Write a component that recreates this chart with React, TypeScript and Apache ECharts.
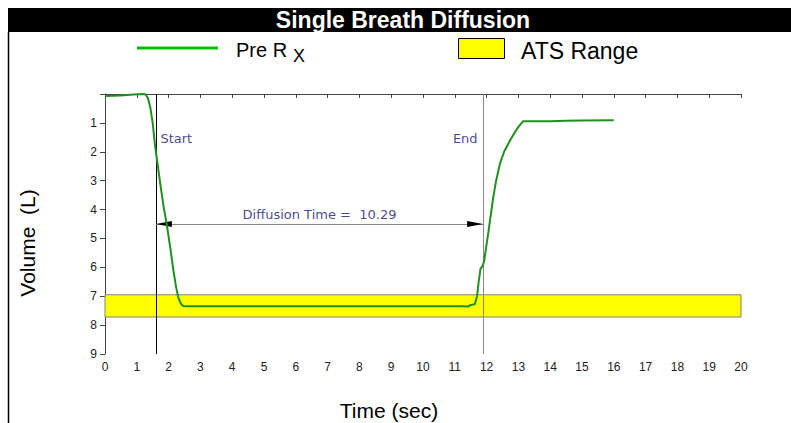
import React, { useEffect, useRef } from 'react';
import * as echarts from 'echarts';

// ---- data ----
const TIME = [
  0, 0.3, 0.6, 0.9, 1.2, 1.28, 1.35, 1.42, 1.5, 1.57, 1.65, 1.75, 1.85, 1.94, 2.05, 2.15, 2.23, 2.3, 2.38, 2.46,
  2.6, 4, 6, 8, 10, 11.2, 11.42, 11.5, 11.63, 11.7, 11.75, 11.81, 11.86, 11.92, 12.0, 12.05, 12.13, 12.21, 12.3,
  12.42, 12.55, 12.74, 12.9, 13.0, 13.15, 14.0, 14.5, 15.0, 16.0,
];
const VOLUME = [
  0.07, 0.06, 0.04, 0.02, 0.0, 0.02, 0.15, 0.44, 1.0, 1.75, 2.4, 3.2, 3.95, 4.5, 5.3, 6.1, 6.65, 7.02, 7.25, 7.34,
  7.35, 7.35, 7.35, 7.35, 7.35, 7.35, 7.36, 7.3, 7.28, 7.0, 6.5, 6.04, 5.98, 5.8, 5.2, 4.83, 4.2, 3.56, 3.0,
  2.41, 2.0, 1.6, 1.3, 1.14, 0.94, 0.94, 0.93, 0.92, 0.91,
];
const ATS_RANGE = [6.95, 7.72];
const START_T = 1.6;
const END_T = 11.89;
const ARROW_VOL = 4.5;
const LABEL_VOL = 1.53;
const DIFFUSION_TIME = '10.29';
const X_MIN = 0;
const X_MAX = 20;
const Y_MIN = 0;
const Y_MAX = 9;

const TITLE = 'Single Breath Diffusion';
const SERIES_NAME = 'Pre R';
const SERIES_SUB = 'X';
const BAND_NAME = 'ATS Range';
const X_NAME = 'Time (sec)';
const Y_NAME = 'Volume  (L)';

const SANS = '"Liberation Sans", Arial, sans-serif';
const NOTE = '"DejaVu Sans", Tahoma, sans-serif';
const NAVY = '#16166e';
const GREEN = '#1f8f1f';

export default function App() {
  const ref = useRef<HTMLDivElement>(null);
  useEffect(() => {
    if (!ref.current) return;
    const chart = echarts.init(ref.current, null, { renderer: 'svg' });
    const curve = TIME.map((t, i) => [t, VOLUME[i]]);
    // arrow head half-length in data units (16px head over 636px / 20 s)
    const headShift = (8 / 636) * (X_MAX - X_MIN);
    const grayLine = { color: '#888', type: 'solid', width: 1 };
    const blackLine = { color: '#000', type: 'solid', width: 1 };
    const option: any = {
      animation: false,
      grid: { left: 105, right: 50, top: 94, bottom: 69, containLabel: false },
      xAxis: {
        type: 'value',
        min: X_MIN,
        max: X_MAX,
        interval: 1,
        axisLine: { show: true, lineStyle: { color: '#444', width: 1 } },
        axisTick: { show: true, length: 4, lineStyle: { color: '#444' } },
        axisLabel: { fontSize: 12, color: '#222', fontFamily: SANS, margin: 7 },
        splitLine: { show: false },
      },
      yAxis: {
        type: 'value',
        min: Y_MIN,
        max: Y_MAX,
        interval: 1,
        inverse: true,
        axisLine: { show: true, lineStyle: { color: '#444', width: 1 } },
        axisTick: { show: true, length: 5, lineStyle: { color: '#444' } },
        axisLabel: {
          fontSize: 12,
          color: '#222',
          fontFamily: SANS,
          margin: 8,
          formatter: (v: number) => (v === 0 ? '' : String(v)),
        },
        splitLine: { show: false },
      },
      series: [
        {
          name: SERIES_NAME,
          type: 'line',
          data: curve,
          showSymbol: false,
          symbol: 'none',
          clip: false,
          z: 5,
          lineStyle: { color: GREEN, width: 2 },
          markArea: {
            silent: true,
            itemStyle: { color: '#ffff00', opacity: 1, borderColor: '#808080', borderWidth: 1 },
            data: [[{ xAxis: X_MIN, yAxis: ATS_RANGE[0] }, { xAxis: X_MAX, yAxis: ATS_RANGE[1] }]],
          },
          markLine: {
            silent: true,
            symbol: 'none',
            label: { show: false },
            lineStyle: { type: 'solid', width: 1 },
            data: [
              { xAxis: START_T, lineStyle: blackLine },
              { xAxis: END_T, lineStyle: grayLine },
              [
                { coord: [START_T, ARROW_VOL], symbol: 'none', lineStyle: grayLine },
                { coord: [END_T, ARROW_VOL], symbol: 'none' },
              ],
              [
                { coord: [START_T + headShift, ARROW_VOL], symbol: 'triangle', symbolSize: [6, 16], lineStyle: blackLine },
                { coord: [START_T + headShift * 1.01, ARROW_VOL], symbol: 'none' },
              ],
              [
                { coord: [END_T - headShift * 1.01, ARROW_VOL], symbol: 'none', lineStyle: blackLine },
                { coord: [END_T - headShift, ARROW_VOL], symbol: 'triangle', symbolSize: [6, 16] },
              ],
            ],
          },
        },
        {
          name: 'notes',
          type: 'scatter',
          silent: true,
          symbolSize: 1,
          itemStyle: { color: 'rgba(0,0,0,0)' },
          z: 6,
          data: [
            { value: [START_T, LABEL_VOL], label: { show: true, formatter: 'Start', position: 'right', distance: 4 } },
            { value: [END_T, LABEL_VOL], label: { show: true, formatter: 'End', position: 'left', distance: 5 } },
            {
              value: [(START_T + END_T) / 2, ARROW_VOL],
              label: { show: true, formatter: `Diffusion Time =  ${DIFFUSION_TIME}`, position: 'top', distance: 3 },
            },
          ],
          label: { color: NAVY, fontSize: 13, fontFamily: NOTE },
        },
      ],
      graphic: [
        { type: 'rect', shape: { x: 8, y: 8, width: 783, height: 24 }, style: { fill: '#000' }, silent: true },
        {
          type: 'text',
          x: 403,
          y: 20,
          style: {
            text: TITLE,
            fill: '#fff',
            font: `bold 23px ${SANS}`,
            textAlign: 'center',
            textVerticalAlign: 'middle',
            align: 'center',
            verticalAlign: 'middle',
          },
        },
        { type: 'line', shape: { x1: 8.5, y1: 32, x2: 8.5, y2: 423 }, style: { stroke: '#000', lineWidth: 1.5 } },
        { type: 'line', shape: { x1: 137, y1: 48, x2: 218, y2: 48 }, style: { stroke: '#00c000', lineWidth: 3 } },
        {
          type: 'text',
          x: 236,
          y: 50,
          style: { text: SERIES_NAME, fill: '#000', font: `20px ${SANS}`, textAlign: 'left', textVerticalAlign: 'middle', align: 'left', verticalAlign: 'middle' },
        },
        {
          type: 'text',
          x: 293,
          y: 56,
          style: { text: SERIES_SUB, fill: '#000', font: `18px ${SANS}`, textAlign: 'left', textVerticalAlign: 'middle', align: 'left', verticalAlign: 'middle' },
        },
        { type: 'rect', shape: { x: 458.5, y: 38.5, width: 46, height: 20 }, style: { fill: '#ffff00', stroke: '#000', lineWidth: 1 } },
        {
          type: 'text',
          x: 521,
          y: 51,
          style: { text: BAND_NAME, fill: '#000', font: `23px ${SANS}`, textAlign: 'left', textVerticalAlign: 'middle', align: 'left', verticalAlign: 'middle' },
        },
        {
          type: 'text',
          x: 27,
          y: 243,
          rotation: Math.PI / 2,
          style: { text: Y_NAME, fill: '#000', font: `21px ${SANS}`, textAlign: 'center', textVerticalAlign: 'middle', align: 'center', verticalAlign: 'middle' },
        },
        {
          type: 'text',
          x: 389,
          y: 410,
          style: { text: X_NAME, fill: '#000', font: `21px ${SANS}`, textAlign: 'center', textVerticalAlign: 'middle', align: 'center', verticalAlign: 'middle' },
        },
      ],
    };
    chart.setOption(option);
    return () => chart.dispose();
  }, []);
  return <div ref={ref} style={{ position: 'fixed', left: 0, top: 0, width: 791, height: 423, background: '#fff' }} />;
}
